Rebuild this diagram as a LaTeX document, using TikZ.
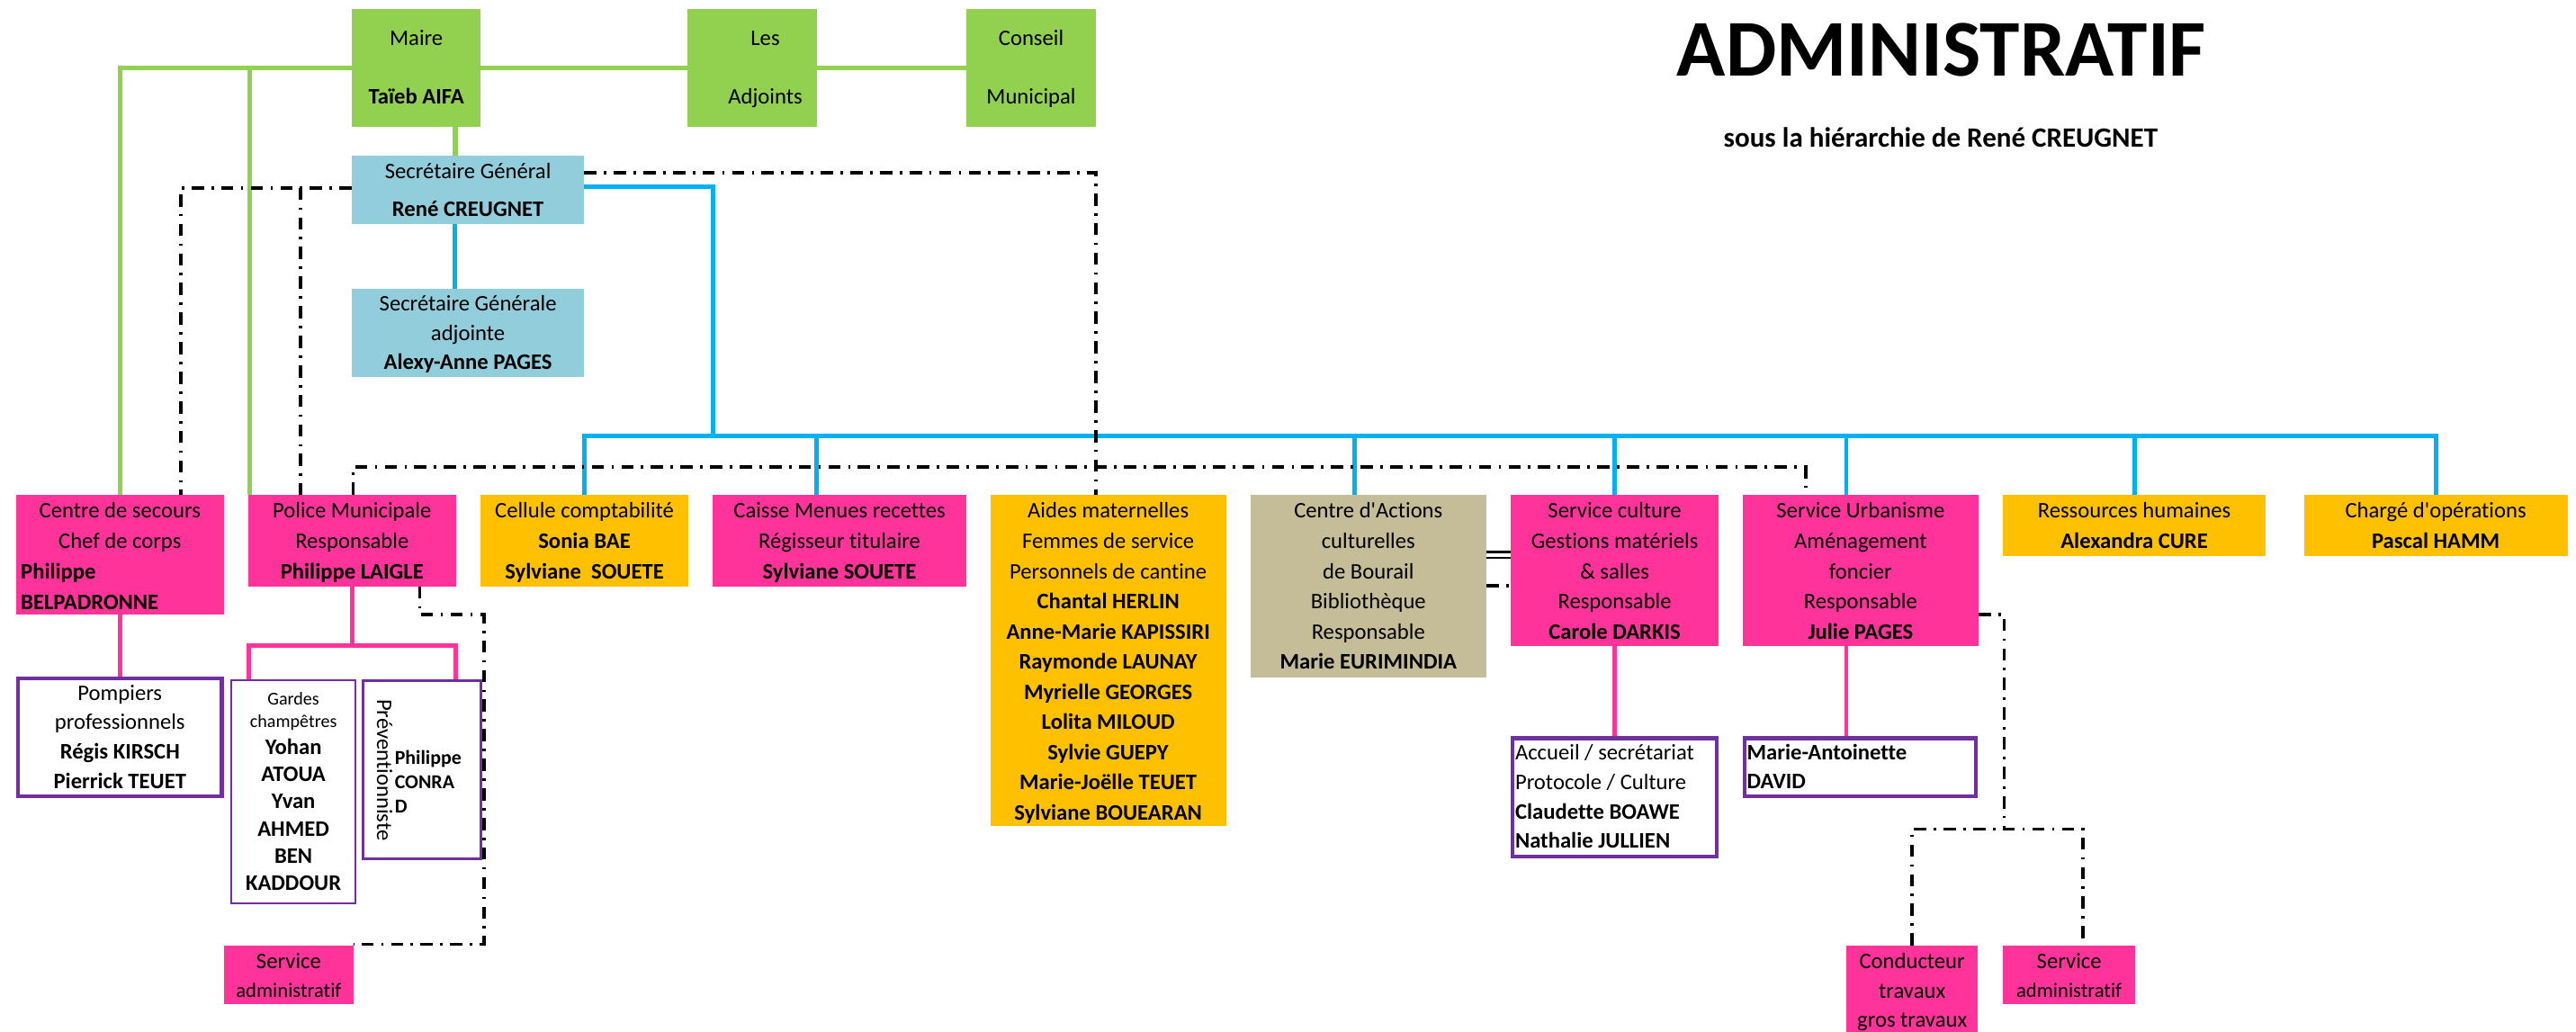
\documentclass[tikz,border=0pt]{standalone}
\usepackage{fontspec}
\setmainfont{Carlito}[Ligatures=NoCommon]
\usetikzlibrary{fit,backgrounds}
\definecolor{grn}{HTML}{92D050}
\definecolor{lblue}{HTML}{92CDDC}
\definecolor{cyn}{HTML}{00B0F0}
\definecolor{pk}{HTML}{FF3399}
\definecolor{org}{HTML}{FFC000}
\definecolor{khk}{HTML}{C4BD97}
\definecolor{prp}{HTML}{7030A0}
\newcommand{\hs}{\rule{0pt}{12.9pt}}
\newcommand{\orgbox}[9]{%
  \node[#2, fit={(#3,#4) (#5,#6)}] (#1) {};
  \pgfmathsetmacro{\tdy}{#7-8.4-#4}%
  \node[txt, anchor=north, font=\fontsize{13.5}{#8}\selectfont] (#1t) at ([yshift=-\tdy pt]#1.north) {\hs #9};
}
\tikzset{
  basebox/.style={inner sep=0pt, outer sep=0pt, rectangle},
  gbox/.style={basebox, fill=grn},
  bbox/.style={basebox, fill=lblue},
  pbox/.style={basebox, fill=pk},
  obox/.style={basebox, fill=org},
  kbox/.style={basebox, fill=khk},
  purplebox/.style={basebox, draw=prp, fill=white, line width=2.4pt},
  midpurple/.style={basebox, draw=prp, fill=white, line width=1.6pt},
  thinpurple/.style={basebox, draw=prp, fill=white, line width=1.2pt},
  txt/.style={inner sep=0pt, outer sep=0pt, align=center, font=\fontsize{13.5}{18.38}\selectfont},
  greenln/.style={draw=grn, line width=3pt},
  blueln/.style={draw=cyn, line width=2.7pt},
  pinkln/.style={draw=pk, line width=2.7pt},
  dd/.style={draw=black, line width=2pt, dash pattern=on 7.5pt off 4.5pt on 1.5pt off 4.5pt},
  dbl/.style={draw=black, line width=1.3pt, double=white, double distance=2.3pt}
}
\begin{document}
\begin{tikzpicture}[x=1pt,y=-1pt]
\useasboundingbox (0,0) rectangle (1568,628);

% title
\node[font=\bfseries\fontsize{49}{55}\selectfont, anchor=base, inner sep=0pt] (title) at (1181.8,46.5) {ADMINISTRATIF};
\node[font=\bfseries\fontsize{17}{20}\selectfont, anchor=base, inner sep=0pt] (subtitle) at (1181.3,89.5) {sous la hiérarchie de René CREUGNET};

% top row
\orgbox{maire}{gbox}{214.1}{5.5}{292.7}{77}{23.4}{35.6}{Maire\\\textbf{Taïeb AIFA}}
\node[gbox, fit={(418.5,5.5) (497.1,77)}] (adj) {};
\node[txt, anchor=north, font=\fontsize{13.5}{35.6}\selectfont] (adjt) at ([xshift=8pt, yshift=-9.5pt]adj.north) {\hs Les\\Adjoints};
\orgbox{cons}{gbox}{588.2}{5.5}{667.1}{77}{23.4}{35.6}{Conseil\\Municipal}
\orgbox{sg}{bbox}{214.1}{94.7}{355.6}{136.2}{104.4}{22.8}{Secrétaire Général\\\textbf{René CREUGNET}}
\orgbox{sga}{bbox}{214.1}{175.8}{355.6}{229.6}{184.9}{17.7}{Secrétaire Générale\\adjointe\\\textbf{Alexy-Anne PAGES}}

% second row
\node[pbox, fit={(9.8,301.2) (136.2,374.2)}] (cs) {};
\node[txt, anchor=north] (cst1) at ([yshift=-1.3pt]cs.north) {\hs Centre de secours\\Chef de corps};
\node[txt, align=left, font=\bfseries\fontsize{13.5}{18.38}\selectfont, anchor=north west] (cst2) at ([xshift=2.9pt, yshift=-38.5pt]cs.north west) {\hs Philippe\\BELPADRONNE};
\orgbox{pm}{pbox}{151.1}{301.2}{277.5}{356.9}{310.9}{18.38}{Police Municipale\\Responsable\\\textbf{Philippe LAIGLE}}
\orgbox{cc}{obox}{292.4}{301.2}{419.1}{356.9}{310.9}{18.38}{Cellule comptabilité\\\textbf{Sonia BAE}\\\textbf{Sylviane\ \ SOUETE}}
\orgbox{cm}{pbox}{433.8}{301.2}{588.2}{356.9}{310.9}{18.38}{Caisse Menues recettes\\Régisseur titulaire\\\textbf{Sylviane SOUETE}}
\orgbox{am}{obox}{602.9}{301.2}{746.2}{502.9}{310.9}{18.38}{Aides maternelles\\Femmes de service\\Personnels de cantine\\\textbf{Chantal HERLIN}\\\textbf{Anne-Marie KAPISSIRI}\\\textbf{Raymonde LAUNAY}\\\textbf{Myrielle GEORGES}\\\textbf{Lolita MILOUD}\\\textbf{Sylvie GUEPY}\\\textbf{Marie-Joëlle TEUET}\\\textbf{Sylviane BOUEARAN}}
\orgbox{ca}{kbox}{761.1}{301.2}{904.7}{412.2}{310.9}{18.38}{Centre d\textquotesingle Actions\\culturelles\\de Bourail\\Bibliothèque\\Responsable\\\textbf{Marie EURIMINDIA}}
\orgbox{sc}{pbox}{919.6}{301.2}{1046.1}{393}{310.9}{18.38}{Service culture\\Gestions matériels\\\& salles\\Responsable\\\textbf{Carole DARKIS}}
\orgbox{su}{pbox}{1060.7}{301.2}{1204.3}{393}{310.9}{18.38}{Service Urbanisme\\Aménagement\\foncier\\Responsable\\\textbf{Julie PAGES}}
\orgbox{rh}{obox}{1219.1}{301.2}{1379.1}{338.3}{310.9}{18.38}{Ressources humaines\\\textbf{Alexandra CURE}}
\orgbox{co}{obox}{1402.4}{301.2}{1562.8}{338.3}{310.9}{18.38}{Chargé d\textquotesingle opérations\\\textbf{Pascal HAMM}}

% third row
\orgbox{pp}{purplebox}{11}{412.8}{135}{484.8}{421.7}{17.9}{Pompiers\\professionnels\\\textbf{Régis KIRSCH}\\\textbf{Pierrick TEUET}}
\node[thinpurple, fit={(140.7,414.1) (216.5,549.8)}] (gc) {};
\node[txt, font=\fontsize{11}{13.7}\selectfont, anchor=north] (gct1) at ([yshift=-2pt]gc.north) {\hs Gardes\\champêtres};
\node[txt, font=\bfseries\fontsize{13.5}{16.6}\selectfont, anchor=north] (gct2) at ([yshift=-32pt]gc.north) {\hs Yohan\\ATOUA\\Yvan\\AHMED\\BEN\\KADDOUR};
\node[midpurple, fit={(220.8,414.3) (292.6,522.7)}] (pv) {};
\node[txt, rotate=-90, font=\fontsize{13.5}{16}\selectfont] (pvr) at (234.2,468.7) {Préventionniste};
\node[txt, align=left, font=\bfseries\fontsize{12}{14.7}\selectfont, anchor=north west] (pvn) at (240.3,452.6) {\hs Philippe\\CONRA\\D};
\orgbox{sa1}{pbox}{136.4}{575.6}{215.1}{611}{585}{17.4}{Service\\{\fontsize{12.4}{17.4}\selectfont administratif}}

\node[purplebox, fit={(920.8,449.4) (1044.9,521.3)}] (ac) {};
\node[txt, align=left, font=\fontsize{13.5}{17.9}\selectfont, anchor=north west] (act) at ([xshift=1.5pt, yshift=-0.4pt]ac.north west) {\hs Accueil / secrétariat\\Protocole / Culture\\\textbf{Claudette BOAWE}\\\textbf{Nathalie JULLIEN}};
\node[purplebox, fit={(1061.8,449.4) (1202.8,484.8)}] (ma) {};
\node[txt, align=left, font=\bfseries\fontsize{13.5}{17.3}\selectfont, anchor=north west] (mat) at ([xshift=1.6pt, yshift=-0.4pt]ma.north west) {\hs Marie-Antoinette\\DAVID};
\orgbox{ct}{pbox}{1123.8}{575.6}{1204}{640}{585}{17.9}{Conducteur\\travaux\\gros travaux}
\orgbox{sa2}{pbox}{1219.3}{575.6}{1299.6}{611}{585}{17.4}{Service\\{\fontsize{12.4}{17.4}\selectfont administratif}}

\begin{scope}[on background layer]
\fill[white] (0,0) rectangle (1568,628);
% green
\coordinate (mx) at (277,0);
\draw[greenln] (cs.north) |- (maire.west);
\draw[greenln] ([xshift=1pt]pm.north west) -- ([xshift=1pt]pm.north west |- maire.west);
\draw[greenln] (maire.east) -- (adj.west);
\draw[greenln] (adj.east) -- (cons.west);
\draw[greenln] (maire.south -| mx) -- (sg.north -| mx);
% blue
\draw[blueln] (sg.south -| mx) -- (sga.north -| mx);
\coordinate (bus) at (434.2,265.2);
\draw[blueln] ([yshift=2pt]sg.east) -| (bus);
\draw[blueln] (cc.north) |- (bus) -| (co.north);
\coordinate (bcm) at (497,0);
\coordinate (bca) at (824.3,0);
\coordinate (bsu) at (1123.8,0);
\draw[blueln] (cm.north -| bcm) -- (bus -| bcm);
\draw[blueln] (ca.north -| bca) -- (bus -| bca);
\draw[blueln] (sc.north) -- (bus -| sc.north);
\draw[blueln] (su.north -| bsu) -- (bus -| bsu);
\draw[blueln] (rh.north) -- (bus -| rh.north);
% pink
\draw[pinkln] (cs.south) -- (pp.north);
\coordinate (pl) at (151.6,392.8);
\coordinate (pr) at (277.5,392.8);
\draw[pinkln] (pm.south) -- (pm.south |- pl);
\draw[pinkln] (gc.north -| pl) -- (pl) -- (pr) -- (pv.north -| pr);
\draw[pinkln] (sc.south) -- (ac.north);
\draw[pinkln] (su.south -| bsu) -- (ma.north -| bsu);
% dash-dot
\coordinate (d1) at (110,0);
\coordinate (d2) at (183,114.3);
\coordinate (d3) at (667,0);
\draw[dd] ([yshift=1.15pt]sg.west) -| (cs.north -| d1);
\draw[dd] (d2) -- (pm.north -| d2);
\draw[dd] ([yshift=10.35pt]sg.east) -| (am.north -| d3);
\coordinate (d4a) at (215,284.4);
\coordinate (d4b) at (1099,284.4);
\draw[dd] (pm.north -| d4a) -- (d4a) -- (d4b) -- (su.north -| d4b);
\coordinate (d5a) at (255.5,374.2);
\coordinate (d5b) at (294.6,374.2);
\coordinate (d5c) at (294.6,574.7);
\draw[dd] (pm.south -| d5a) -- (d5a) -- (d5b) -- (d5c) -- (d5c -| sa1.east);
\draw[dd] (ca.east) -- (ca.east -| sc.west);
\draw[dbl] ([yshift=19pt]ca.east) -- ([yshift=19pt]ca.east -| sc.west);
\coordinate (d7a) at (1219.9,374.2);
\coordinate (d7b) at (1219.9,504.7);
\coordinate (d7r) at (1268,0);
\draw[dd] (su.east |- d7a) -- (d7a) -- (d7b);
\draw[dd] (ct.north) |- (d7b) -| (sa2.north -| d7r);
\end{scope}
\end{tikzpicture}
\end{document}
